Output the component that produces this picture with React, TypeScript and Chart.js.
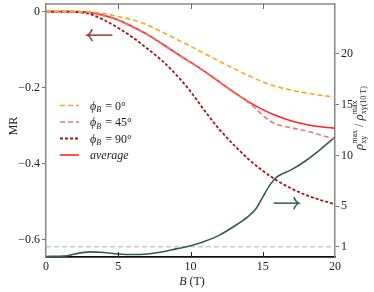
import { useEffect, useRef } from "react";
import { Chart, registerables } from "chart.js";
Chart.register(...registerables);

const fieldB = [0, 1, 2, 3, 4, 5, 6, 7, 8, 9, 10, 11, 12, 13, 14, 15, 16, 17, 18, 19, 20];
const mr0 = [0, 0, 0, -0.001, -0.005, -0.013, -0.022, -0.035, -0.053, -0.072, -0.091, -0.111, -0.131, -0.150, -0.168, -0.185, -0.198, -0.207, -0.214, -0.220, -0.225];
const mrAvg = [0, 0, 0, -0.002, -0.010, -0.022, -0.040, -0.060, -0.084, -0.109, -0.133, -0.158, -0.185, -0.212, -0.237, -0.258, -0.275, -0.288, -0.297, -0.303, -0.307];
const mr45B = [0, 1, 2, 3, 4, 5, 6, 7, 8, 9, 10, 11, 12, 13, 14, 14.5, 15, 15.5, 16, 17, 18, 19, 20];
const mr45 = [0, 0, 0, -0.002, -0.011, -0.023, -0.041, -0.061, -0.085, -0.110, -0.134, -0.159, -0.186, -0.213, -0.239, -0.255, -0.273, -0.288, -0.297, -0.306, -0.314, -0.325, -0.336];
const mr90 = [0, 0, -0.001, -0.006, -0.022, -0.043, -0.068, -0.097, -0.128, -0.166, -0.210, -0.262, -0.310, -0.351, -0.388, -0.419, -0.445, -0.466, -0.483, -0.496, -0.507];
const ratioB = [0, 1, 1.5, 2, 3, 4, 5, 6, 7, 8, 9, 10, 11, 12, 13, 14, 14.5, 15, 15.5, 16, 17, 18, 19, 20];
const ratio = [0.05, 0.08, 0.12, 0.3, 0.5, 0.45, 0.3, 0.25, 0.3, 0.5, 0.8, 1.1, 1.55, 2.15, 3.0, 4.0, 4.7, 5.9, 7.1, 7.9, 8.6, 9.5, 10.6, 11.8];
const refB = [0, 20];
const refRatio = [1, 1];
const xTicks = [0, 5, 10, 15, 20];
const mrTicks = [0, -0.2, -0.4, -0.6];
const ratioTicks = [1, 5, 10, 15, 20];

const C_ORANGE = "#f7a823";
const C_PINK = "#e07a7a";
const C_DARK = "#a01818";
const C_RED = "#ff2222";
const C_TEAL = "#2f5a5a";
const C_ARROW = "#a03535";
const SERIF = "'Liberation Serif', 'DejaVu Serif', serif";

const pts = (xs: number[], ys: number[]) => xs.map((x, i) => ({ x, y: ys[i] }));

type Seg = { t: string; f: string; dy?: number; stack?: { sup: string; sub: string; f: string } };

function drawRich(ctx: CanvasRenderingContext2D, segs: Seg[], x: number, y: number) {
  const widths = segs.map((s) => {
    if (s.stack) {
      ctx.font = s.stack.f;
      return Math.max(ctx.measureText(s.stack.sup).width, ctx.measureText(s.stack.sub).width);
    }
    ctx.font = s.f;
    return ctx.measureText(s.t).width;
  });
  const total = widths.reduce((a, b) => a + b, 0);
  let cx = x - total / 2;
  ctx.textAlign = "left";
  ctx.textBaseline = "alphabetic";
  segs.forEach((s, i) => {
    if (s.stack) {
      ctx.font = s.stack.f;
      ctx.fillText(s.stack.sup, cx, y - 6);
      ctx.fillText(s.stack.sub, cx, y + 3);
    } else {
      ctx.font = s.f;
      ctx.fillText(s.t, cx, y + (s.dy || 0));
    }
    cx += widths[i];
  });
}

const decor = {
  id: "decor",
  afterDraw(chart: any) {
    const ctx: CanvasRenderingContext2D = chart.ctx;
    const a = chart.chartArea;
    const xs = chart.scales.x;
    const ys = chart.scales.y;
    ctx.save();
    ctx.strokeStyle = "#888";
    ctx.lineWidth = 1.5;
    ctx.beginPath();
    ctx.moveTo(a.left, a.top);
    ctx.lineTo(a.right, a.top);
    ctx.stroke();
    ctx.lineWidth = 1;
    [5, 10, 15].forEach((v) => {
      const px = Math.round(xs.getPixelForValue(v)) + 0.5;
      ctx.strokeStyle = "#666";
      ctx.beginPath();
      ctx.moveTo(px, a.top);
      ctx.lineTo(px, a.top + 5);
      ctx.stroke();
      ctx.strokeStyle = "#222";
      ctx.beginPath();
      ctx.moveTo(px, a.bottom);
      ctx.lineTo(px, a.bottom - 5);
      ctx.stroke();
    });
    const arrow = (x1: number, x2: number, y: number, color: string) => {
      ctx.strokeStyle = color;
      ctx.lineWidth = 1.5;
      ctx.beginPath();
      ctx.moveTo(x1, y);
      ctx.lineTo(x2, y);
      ctx.stroke();
      const d = Math.sign(x2 - x1);
      ctx.beginPath();
      ctx.moveTo(x2 - d * 5, y - 6);
      ctx.quadraticCurveTo(x2 - d * 3, y - 1, x2, y);
      ctx.quadraticCurveTo(x2 - d * 3, y + 1, x2 - d * 5, y + 6);
      ctx.stroke();
    };
    const ay = ys.getPixelForValue(-0.062);
    arrow(xs.getPixelForValue(4.6), xs.getPixelForValue(2.85), ay, C_ARROW);
    const ry = chart.scales.y2.getPixelForValue(5.3);
    arrow(xs.getPixelForValue(15.75), xs.getPixelForValue(17.5), ry, C_TEAL);

    const items = [
      { c: C_ORANGE, dash: [5, 3], w: 1.6, label: "0°" },
      { c: C_PINK, dash: [5, 3], w: 1.6, label: "45°" },
      { c: C_DARK, dash: [3, 2], w: 1.8, label: "90°" },
      { c: C_RED, dash: [], w: 1.6, label: "" },
    ];
    const ly0 = 105.5;
    items.forEach((it, i) => {
      const y = ly0 + i * 16.5;
      ctx.strokeStyle = it.c;
      ctx.lineWidth = it.w;
      ctx.setLineDash(it.dash);
      ctx.beginPath();
      ctx.moveTo(60, y);
      ctx.lineTo(79, y);
      ctx.stroke();
      ctx.setLineDash([]);
      ctx.fillStyle = "#222";
      ctx.textAlign = "left";
      ctx.textBaseline = "alphabetic";
      if (it.label) {
        ctx.font = `italic 12px ${SERIF}`;
        ctx.fillText("ϕ", 90, y + 4);
        const w = ctx.measureText("ϕ").width;
        ctx.font = `italic 8px ${SERIF}`;
        ctx.fillText("B", 90 + w, y + 6.5);
        ctx.font = `12px ${SERIF}`;
        ctx.fillText("= " + it.label, 90 + w + 9, y + 4);
      } else {
        ctx.font = `italic 12px ${SERIF}`;
        ctx.fillText("average", 90, y + 4);
      }
    });

    ctx.fillStyle = "#222";
    drawRich(ctx, [
      { t: "B", f: `italic 12px ${SERIF}` },
      { t: " (T)", f: `12px ${SERIF}` },
    ], 192, 285);

    ctx.save();
    ctx.translate(17, 126);
    ctx.rotate(-Math.PI / 2);
    drawRich(ctx, [{ t: "MR", f: `12px ${SERIF}` }], 0, 0);
    ctx.restore();

    ctx.save();
    ctx.translate(363, 118);
    ctx.rotate(-Math.PI / 2);
    const small = `8px ${SERIF}`;
    drawRich(ctx, [
      { t: "ρ", f: `italic 13px ${SERIF}` },
      { t: "", f: small, stack: { sup: "max", sub: "xy", f: small } },
      { t: " / ", f: `12px ${SERIF}` },
      { t: "ρ", f: `italic 13px ${SERIF}` },
      { t: "", f: small, stack: { sup: "max", sub: "xy(10 T)", f: small } },
    ], 0, 0);
    ctx.restore();

    ctx.restore();
  },
};

export default function App() {
  const ref = useRef<HTMLCanvasElement | null>(null);
  useEffect(() => {
    document.body.style.margin = "0";
    const canvas = ref.current!;
    const tickFont = { family: SERIF, size: 12 };
    const chart = new Chart(canvas, {
      type: "line",
      data: {
        datasets: [
          { data: pts(fieldB, mr0), borderColor: C_ORANGE, borderDash: [5, 3], borderWidth: 1.6, yAxisID: "y" },
          { data: pts(mr45B, mr45), borderColor: C_PINK, borderDash: [5, 3], borderWidth: 1.6, yAxisID: "y" },
          { data: pts(fieldB, mr90), borderColor: C_DARK, borderDash: [3, 2], borderWidth: 1.8, yAxisID: "y" },
          { data: pts(fieldB, mrAvg), borderColor: C_RED, borderWidth: 1.6, yAxisID: "y" },
          { data: pts(ratioB, ratio), borderColor: C_TEAL, borderWidth: 1.6, yAxisID: "y2" },
          { data: pts(refB, refRatio), borderColor: "#aab2ba", borderDash: [5, 3], borderWidth: 1, yAxisID: "y2", tension: 0 },
        ] as any,
      },
      options: {
        responsive: false,
        animation: false,
        events: [],
        layout: { padding: { top: 4, left: 0, right: 0, bottom: 0 } },
        elements: { point: { radius: 0 }, line: { tension: 0.4, cubicInterpolationMode: "monotone" } },
        plugins: { legend: { display: false }, tooltip: { enabled: false } },
        scales: {
          x: {
            type: "linear",
            min: 0,
            max: 20,
            afterBuildTicks: (s: any) => { s.ticks = xTicks.map((v) => ({ value: v })); },
            afterFit: (s: any) => { s.height = 35; s.paddingLeft = 0; s.paddingRight = 0; },
            ticks: { font: tickFont, color: "#222", padding: 3, maxRotation: 0, autoSkip: false },
            grid: { drawOnChartArea: false, drawTicks: false },
            border: { color: "#111", width: 1.8 },
          },
          y: {
            type: "linear",
            position: "left",
            min: -0.646,
            max: 0.02,
            afterBuildTicks: (s: any) => { s.ticks = mrTicks.map((v) => ({ value: v })); },
            afterFit: (s: any) => { s.width = 46; s.paddingTop = 0; s.paddingBottom = 0; },
            ticks: {
              font: tickFont,
              color: "#222",
              padding: 2,
              autoSkip: false,
              callback: (v: any) => (v === 0 ? "0" : (v < 0 ? "−" : "") + Math.abs(v).toFixed(1)),
            },
            grid: { drawOnChartArea: false, tickLength: 4, color: "#777" },
            border: { color: "#888", width: 1.5 },
          },
          y2: {
            type: "linear",
            position: "right",
            min: 0,
            max: 24.9,
            afterBuildTicks: (s: any) => { s.ticks = ratioTicks.map((v) => ({ value: v })); },
            afterFit: (s: any) => { s.width = 39; s.paddingTop = 0; s.paddingBottom = 0; },
            ticks: { font: tickFont, color: "#222", padding: 2, autoSkip: false },
            grid: { drawOnChartArea: false, tickLength: 4, color: "#777" },
            border: { color: "#888", width: 1.5 },
          },
        },
      } as any,
      plugins: [decor],
    });
    return () => chart.destroy();
  }, []);
  return <canvas ref={ref} width={374} height={292} style={{ display: "block" }} />;
}
